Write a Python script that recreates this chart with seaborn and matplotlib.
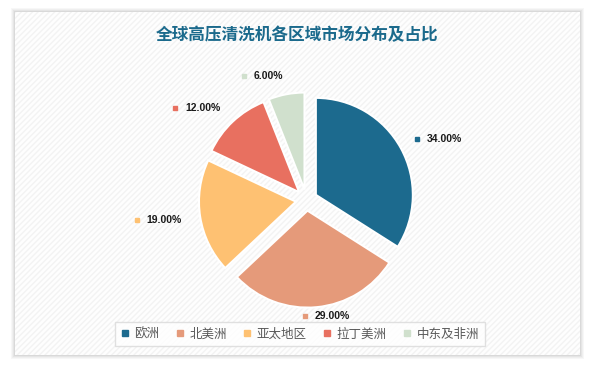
import numpy as np
import matplotlib
matplotlib.use("Agg")
import matplotlib.pyplot as plt
from matplotlib.patches import Rectangle
from matplotlib.lines import Line2D
import seaborn as sns

# dados
regioes = ['欧洲', '北美洲', '亚太地区', '拉丁美洲', '中东及非洲']
participacao = [34.0, 29.0, 19.0, 12.0, 6.0]
cores = ['#1c6a8e', '#e59a7a', '#fec172', '#e87060', '#d0e0cd']
titulo = '全球高压清洗机各区域市场分布及占比'

sns.set_theme(style="white")
plt.rcParams['font.family'] = ['Noto Sans CJK SC', 'DejaVu Sans']
plt.rcParams['hatch.color'] = '#f1f1f1'

W, H = 594, 367
fig = plt.figure(figsize=(W / 100, H / 100), dpi=100)
fig.patch.set_facecolor('white')

# cartão com sombra suave
for i, a in enumerate([0.03, 0.03, 0.04, 0.05]):
    d = 4 - i
    fig.patches.append(Rectangle(((15 - d) / W, (12 - d) / H), (565 + 2 * d) / W, (343 + 2 * d) / H,
                                 transform=fig.transFigure, facecolor='#000000', alpha=a,
                                 edgecolor='none', zorder=-3))
fig.patches.append(Rectangle((15 / W, 12 / H), 565 / W, 343 / H, transform=fig.transFigure,
                             facecolor='#fefefe', edgecolor='#f3f3f3', hatch='//////',
                             linewidth=0, zorder=-2))

fig.text(0.5, 1 - 35 / H, titulo, ha='center', va='center', fontsize=12,
         fontweight='bold', color='#1b6a8c')

# eixo da pizza (97 px por unidade, centro em 306.5, 200)
escala = 97
cx, cy = 306.5, 200
lim = 1.6
lado = 2 * lim * escala
ax = fig.add_axes([(cx - lado / 2) / W, (H - cy - lado / 2) / H, lado / W, lado / H])
ax.set_facecolor('none')

wedges, _ = ax.pie(participacao, colors=cores, startangle=90, counterclock=False,
                   explode=[0.11] * len(participacao),
                   wedgeprops=dict(edgecolor='white', linewidth=1.5))
ax.set_xlim(-lim, lim)
ax.set_ylim(-lim, lim)
ax.set_aspect('equal')
ax.axis('off')

# rótulos de dados
fig.canvas.draw()
renderer = fig.canvas.get_renderer()
for w, v, c in zip(wedges, participacao, cores):
    ang = np.deg2rad((w.theta1 + w.theta2) / 2)
    r = 1.2 if abs(np.cos(ang)) < 0.12 else 1.3
    x, y = r * np.cos(ang), r * np.sin(ang)
    t = ax.text(x, y, f'{v:.2f}%', fontsize=7.5, fontweight='bold', color='#1a1a1a',
                va='center', ha='left', family=['Liberation Sans', 'DejaVu Sans'], clip_on=False)
    bb = t.get_window_extent(renderer).transformed(ax.transData.inverted())
    larg = bb.x1 - bb.x0
    if abs(np.cos(ang)) < 0.12:
        mx = x - 0.13
        t.set_x(mx + 0.1)
    elif np.cos(ang) < 0:
        t.set_x(x - larg)
        mx = x - larg - 0.1
    else:
        t.set_x(x + 0.1)
        mx = x
    ax.plot(mx, y, marker='s', markersize=3.5, color=c, linestyle='none', clip_on=False)

handles = [Line2D([], [], marker='s', linestyle='none', markersize=4.5, color=c) for c in cores]
leg = fig.legend(handles, regioes, loc='center', bbox_to_anchor=(0.505, 1 - 334 / H), ncol=5,
                 frameon=True, fancybox=False, fontsize=9, handlelength=0.7, handletextpad=0.4,
                 columnspacing=1.3, borderpad=0.45, labelcolor='#595959')
leg.get_frame().set_edgecolor('#d9d9d9')
leg.get_frame().set_linewidth(1)

plt.savefig('out.png', dpi=100)
